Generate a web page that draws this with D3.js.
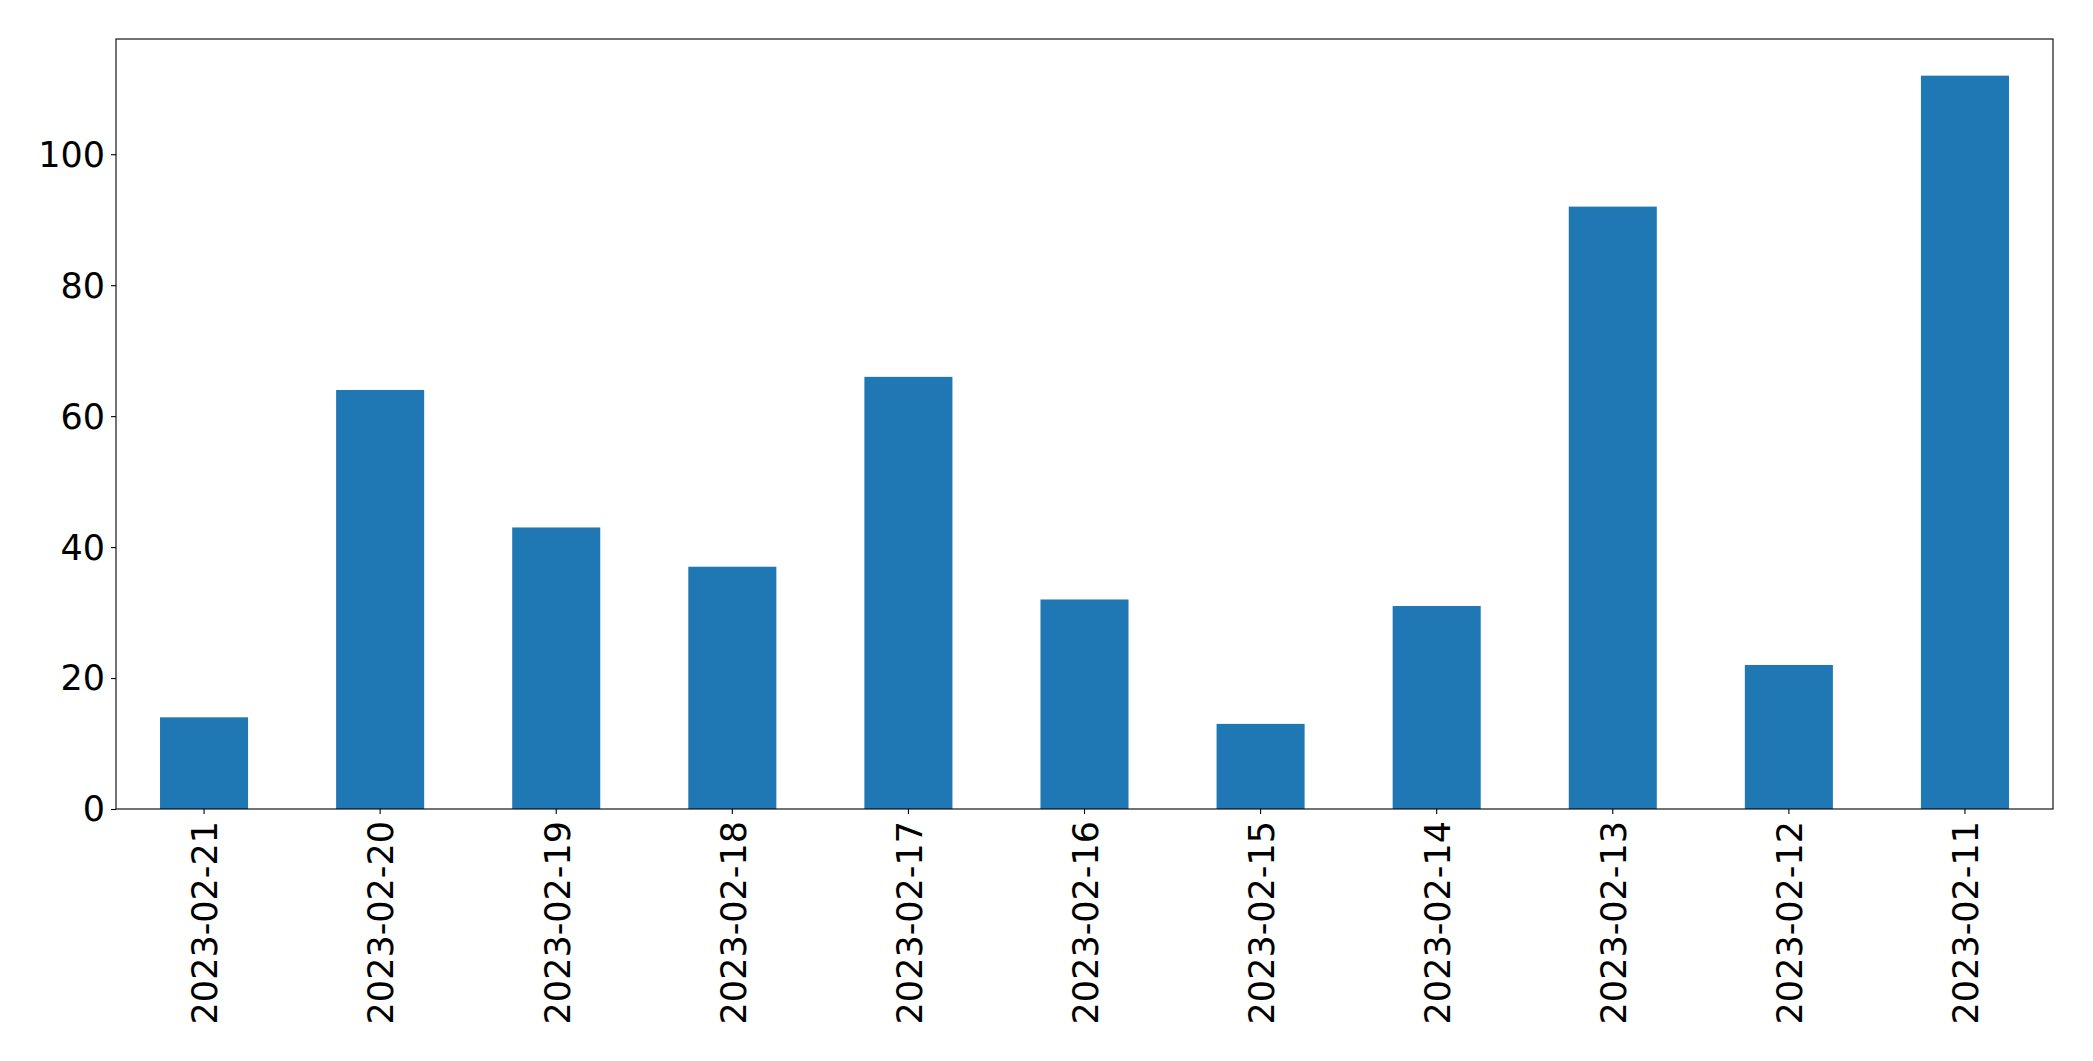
<!DOCTYPE html>
<html>
<head>
<meta charset="utf-8">
<script src="https://cdn.jsdelivr.net/npm/d3@7"></script>
<style>
  html, body { margin: 0; padding: 0; background: #fff; }
  svg { display: block; }
  text { font-family: "DejaVu Sans", sans-serif; fill: #000; }
</style>
</head>
<body>
<script>
const categories = ["2023-02-21","2023-02-20","2023-02-19","2023-02-18","2023-02-17","2023-02-16","2023-02-15","2023-02-14","2023-02-13","2023-02-12","2023-02-11"];
const values = [14, 64, 43, 37, 66, 32, 13, 31, 92, 22, 112];
const yTicks = [0, 20, 40, 60, 80, 100];

const W = 2093, H = 1061;
const mLeft = 116, mRight = 2053, mTop = 39, mBottom = 809;

const svg = d3.select("body").append("svg").attr("width", W).attr("height", H);

const x = d3.scaleBand().domain(categories).range([mLeft, mRight])
  .paddingInner(0.5).paddingOuter(0.25);
const y = d3.scaleLinear().domain([0, d3.max(values) * 1.05]).range([mBottom, mTop]);

svg.append("g").selectAll("rect").data(values).join("rect")
  .attr("x", (d, i) => x(categories[i]))
  .attr("y", d => y(d))
  .attr("width", x.bandwidth())
  .attr("height", d => y(0) - y(d))
  .attr("fill", "#1f77b4");

// Y axis
const yAxis = svg.append("g").attr("transform", `translate(${mLeft},0)`)
  .call(d3.axisLeft(y).tickValues(yTicks).tickSize(5).tickPadding(6).tickFormat(d3.format("d")));
yAxis.select(".domain").remove();
yAxis.selectAll("line").attr("stroke", "#000").attr("stroke-width", 1.1);
yAxis.selectAll("text").attr("font-size", 35).attr("dy", "0.34em")
  .style("font-family", "DejaVu Sans");

// X axis
const xAxis = svg.append("g").attr("transform", `translate(0,${mBottom})`)
  .call(d3.axisBottom(x).tickSize(5).tickPadding(5));
xAxis.select(".domain").remove();
xAxis.selectAll("line").attr("stroke", "#000").attr("stroke-width", 1.1);
xAxis.selectAll("text")
  .attr("font-size", 35)
  .style("font-family", "DejaVu Sans")
  .attr("text-anchor", "end")
  .attr("transform", "rotate(-90)")
  .attr("x", -12)
  .attr("y", 0)
  .attr("dy", "0.38em");

// Frame
svg.append("rect")
  .attr("x", mLeft).attr("y", mTop)
  .attr("width", mRight - mLeft).attr("height", mBottom - mTop)
  .attr("fill", "none").attr("stroke", "#000").attr("stroke-width", 1.1);
</script>
</body>
</html>
